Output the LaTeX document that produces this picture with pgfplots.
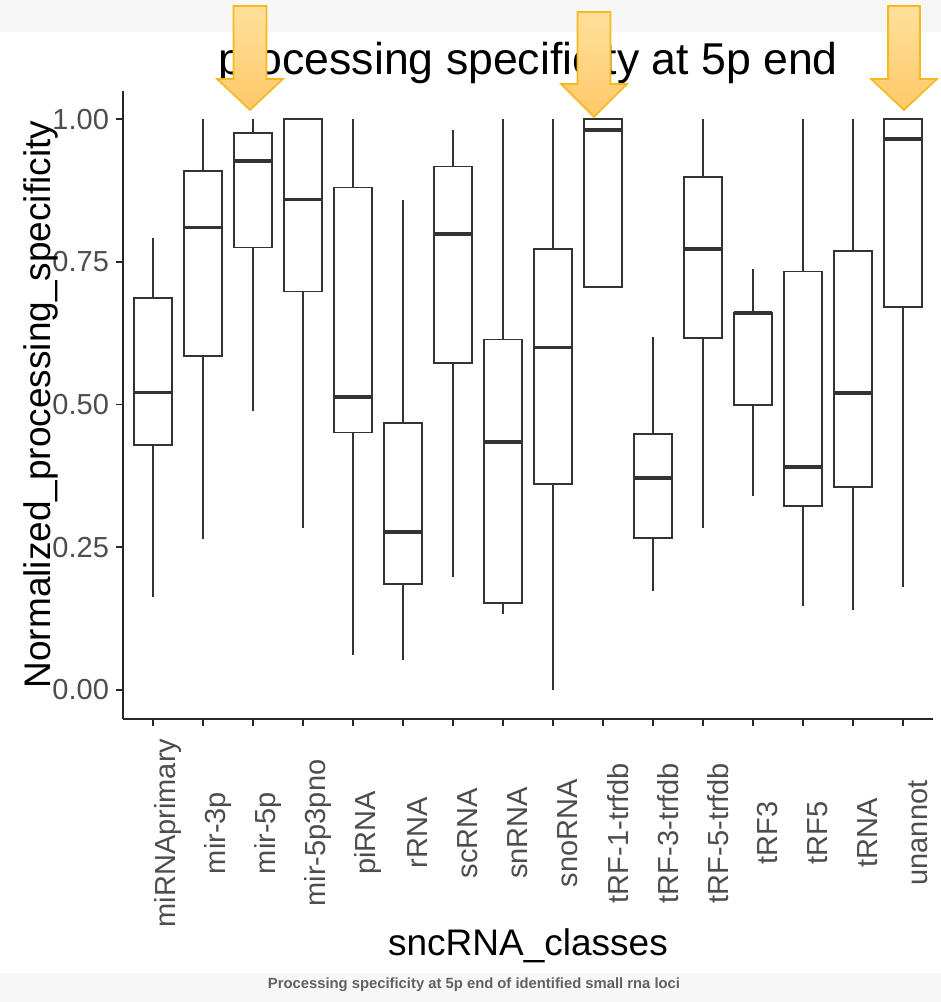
\documentclass[border=0pt]{standalone}
\usepackage{fontspec}
\setmainfont{Liberation Sans}
\usepackage{pgfplots}
\pgfplotsset{compat=1.18}
\usepgfplotslibrary{statistics}

\definecolor{boxcol}{HTML}{333333}
\definecolor{tickcol}{HTML}{4D4D4D}
\definecolor{arrtop}{RGB}{255,224,155}
\definecolor{arrbot}{RGB}{255,200,105}
\definecolor{arredge}{RGB}{245,185,30}

% one ggplot-style box: position, lower whisker, Q1, median, Q3, upper whisker
\newcommand{\gbox}[6]{%
  \addplot[boxcol, solid, mark=none, line width=0.9pt, boxplot prepared={draw position=#1,
    draw direction=y,
    lower whisker=#2, lower quartile=#3, median=#4,
    upper quartile=#5, upper whisker=#6}] coordinates {};}

% tip x, tip y, head base y, head half width, shaft half width, top y
\newcommand{\hlarrow}[6]{%
  \draw[arredge, line width=0.8pt, top color=arrtop, bottom color=arrbot]
    (#1pt-#5pt,#6pt) -- (#1pt+#5pt,#6pt) -- (#1pt+#5pt,#3pt) -- (#1pt+#4pt,#3pt)
    -- (#1pt,#2pt) -- (#1pt-#4pt,#3pt) -- (#1pt-#5pt,#3pt) -- cycle;}

\begin{document}
\begin{tikzpicture}
\path[use as bounding box] (-61.5pt,-141.75pt) rectangle (409pt,359.25pt);
\fill[black!3] (-61.5pt,343.25pt) rectangle (409pt,359.25pt);
\fill[black!3] (-61.5pt,-127.25pt) rectangle (409pt,-141.75pt);
\begin{axis}[
  width=405pt, height=314pt, scale only axis,
  clip=false,
  xmin=-0.6, xmax=15.6, ymin=-0.05, ymax=1.05,
  axis x line*=bottom, axis y line*=left,
  axis line style={-, black!85, line width=1pt},
  tick align=outside, major tick length=3.5pt,
  tick style={black!85, line width=0.9pt},
  xtick={0,...,15},
  xticklabels={miRNAprimary, mir-3p, mir-5p, mir-5p3pno, piRNA, rRNA, scRNA, snRNA,
    snoRNA, tRF-1-trfdb, tRF-3-trfdb, tRF-5-trfdb, tRF3, tRF5, tRNA, unannot},
  ytick={0,0.25,0.5,0.75,1},
  yticklabels={0.00,0.25,0.50,0.75,1.00},
  tick label style={font=\fontsize{14.5}{17}\selectfont, text=tickcol},
  xticklabel style={anchor=center, xshift=7.5pt, yshift=-53.75pt, rotate=90},
  yticklabel style={anchor=east},
  title={processing specificity at 5p end},
  title style={at={(axis description cs:0.5,1.0199)}, anchor=base, yshift=-4pt,
    font=\fontsize{22.3}{26}\selectfont},
  xlabel={sncRNA\_classes},
  xlabel style={at={(axis description cs:0.5,-0.3766)}, anchor=base,
    font=\fontsize{18.5}{22}\selectfont},
  ylabel={Normalized\_processing\_specificity},
  ylabel style={at={(axis description cs:-0.0901,0.5)}, anchor=base,
    font=\fontsize{18.5}{22}\selectfont},
  boxplot/box extend=0.75,
  boxplot/whisker extend=0,
  boxplot/every median/.style={line width=1.9pt},
]
\gbox{0}{0.163}{0.429}{0.521}{0.686}{0.791}
\gbox{1}{0.264}{0.585}{0.810}{0.909}{1.0}
\gbox{2}{0.489}{0.775}{0.927}{0.975}{1.0}
\gbox{3}{0.284}{0.698}{0.859}{1.0}{1.0}
\gbox{4}{0.061}{0.451}{0.513}{0.880}{1.0}
\gbox{5}{0.053}{0.185}{0.277}{0.467}{0.859}
\gbox{6}{0.198}{0.572}{0.799}{0.917}{0.980}
\gbox{7}{0.133}{0.152}{0.435}{0.614}{1.0}
\gbox{8}{0.0}{0.361}{0.600}{0.773}{1.0}
\gbox{9}{0.706}{0.706}{0.981}{1.0}{1.0}
\gbox{10}{0.174}{0.266}{0.371}{0.448}{0.618}
\gbox{11}{0.284}{0.616}{0.773}{0.898}{1.0}
\gbox{12}{0.339}{0.499}{0.660}{0.661}{0.738}
\gbox{13}{0.147}{0.322}{0.390}{0.733}{1.0}
\gbox{14}{0.140}{0.356}{0.520}{0.769}{1.0}
\gbox{15}{0.180}{0.671}{0.965}{1.0}{1.0}
\end{axis}
% highlight arrows laid over the title
\hlarrow{63.5}{304.25}{319.75}{16.5}{8.25}{356.25}
\hlarrow{235.5}{300.75}{317.25}{16.5}{8.25}{353.25}
\hlarrow{390.5}{304.25}{319.75}{16.5}{8}{356.25}
\node[font=\bfseries\fontsize{7.4}{9}\selectfont, text=black!62] at (175.5pt,-133.25pt)
  {Processing specificity at 5p end of identified small rna loci};
\end{tikzpicture}
\end{document}
